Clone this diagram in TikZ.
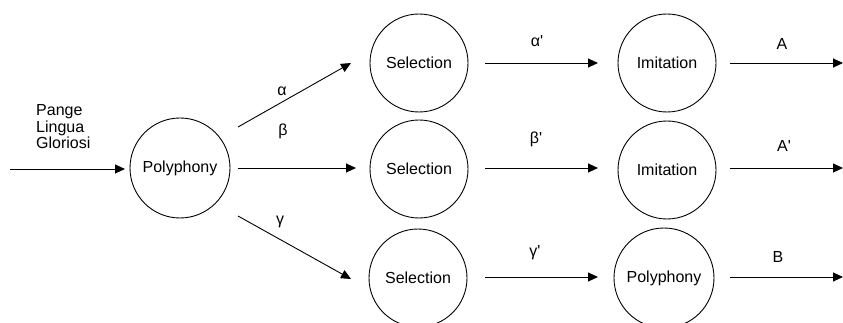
\documentclass[tikz,border=0pt]{standalone}
\usepackage{fontspec}
\setmainfont{Liberation Sans}
\usetikzlibrary{arrows.meta}
\begin{document}
\begin{tikzpicture}[x=1pt,y=-1pt,
  proc/.style={draw,circle,minimum size=98pt,inner sep=0pt,line width=0.9pt,font=\fontsize{16}{16.5}\selectfont},
  flow/.style={line width=0.9pt,-{Triangle[length=10pt,width=9pt]}},
  lbl/.style={font=\fontsize{16}{16.5}\selectfont,inner sep=0pt}]
\useasboundingbox (0,0) rectangle (843,323);
\clip (0,0) rectangle (843,323);
% processes
\node[proc,minimum size=100pt] (p1) at (180,168) {Polyphony};
\node[proc] (s1) at (419,63) {Selection};
\node[proc] (s2) at (419,169) {Selection};
\node[proc] (s3) at (418,278) {Selection};
\node[proc] (i1) at (667,63) {Imitation};
\node[proc] (i2) at (667,170) {Imitation};
\node[proc,minimum size=100pt] (p2) at (664,278) {Polyphony};
% connector end points
\coordinate (in0) at (10,169);  \coordinate (in1) at (125,169);
\coordinate (a0) at (238,127);  \coordinate (a1) at (351,63);
\coordinate (b0) at (238,168);  \coordinate (b1) at (356,168);
\coordinate (c0) at (238,216);  \coordinate (c1) at (351,279);
\coordinate (a2) at (485,63);   \coordinate (a3) at (598,63);
\coordinate (b2) at (485,168);  \coordinate (b3) at (598,168);
\coordinate (c2) at (485,277);  \coordinate (c3) at (598,277);
\coordinate (a4) at (730,63);   \coordinate (a5) at (843,63);
\coordinate (b4) at (730,168);  \coordinate (b5) at (843,168);
\coordinate (c4) at (730,277);  \coordinate (c5) at (843,277);
% connectors
\draw[flow] (in0) -- (in1);
\draw[flow] (a0) -- (a1);
\draw[flow] (b0) -- (b1);
\draw[flow] (c0) -- (c1);
\draw[flow] (a2) -- (a3);
\draw[flow] (b2) -- (b3);
\draw[flow] (c2) -- (c3);
\draw[flow] (a4) -- (a5);
\draw[flow] (b4) -- (b5);
\draw[flow] (c4) -- (c5);
% labels
\node[lbl,anchor=west,align=left] (src) at (36,127) {Pange\\Lingua\\Gloriosi};
\node[lbl] (la) at (282,91) {α};
\node[lbl] (lb) at (283,131) {β};
\node[lbl] (lc) at (280,222) {γ};
\node[lbl] (la2) at (537,41) {α\textquotesingle};
\node[lbl] (lb2) at (536,139) {β\textquotesingle};
\node[lbl] (lc2) at (535,253) {γ\textquotesingle};
\node[lbl] (lA) at (782,44) {A};
\node[lbl] (lA2) at (784,146) {A\textquotesingle};
\node[lbl] (lB) at (778,257) {B};
\end{tikzpicture}
\end{document}
